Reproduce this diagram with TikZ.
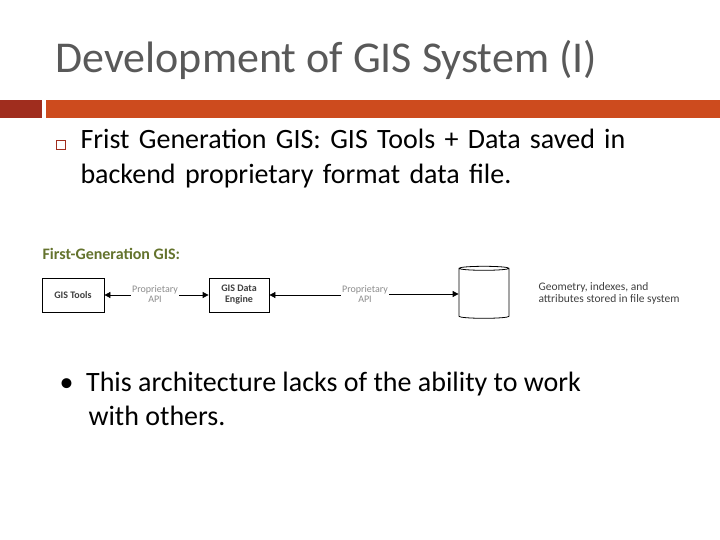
\documentclass[tikz,border=0pt]{standalone}
\usepackage{fontspec}
\setmainfont{Carlito}
\usetikzlibrary{shapes.geometric,arrows.meta}
\definecolor{titlegray}{RGB}{89,89,89}
\definecolor{darkred}{RGB}{160,45,30}
\definecolor{orangebar}{RGB}{205,75,30}
\definecolor{olive}{RGB}{100,115,45}
\begin{document}
\begin{tikzpicture}[x=1pt,y=-1pt,
  box/.style={draw,line width=0.8pt,fill=white,align=center,font=\fontsize{10}{11}\selectfont\bfseries,text=black!75,minimum height=34pt},
  lbl/.style={font=\fontsize{10}{10}\selectfont,text=black!45,align=center,inner sep=1pt},
  arr/.style={line width=0.8pt,-{Triangle[length=6pt,width=6pt]}}]
\useasboundingbox (0,0) rectangle (720,540);
\node[anchor=west,text=titlegray,font=\fontsize{44}{46}\selectfont] (title) at (52,60) {Development of GIS System (I)};
\fill[darkred] (0,100) rectangle (42,118);
\fill[orangebar] (46,100) rectangle (720,118);
\node[draw=darkred,line width=0.8pt,minimum size=9pt,inner sep=0pt] (sq) at (61,145) {};
\node[anchor=north west,align=left,font=\fontsize{28}{35}\selectfont,text width=640pt] (t1) at (77,126) {\raggedright Frist Generation GIS: GIS Tools + Data saved in\\backend proprietary format data file.};
\node[anchor=west,text=olive,font=\fontsize{16}{17}\selectfont\bfseries] (fg) at (39,254) {First-Generation GIS:};
\node[box,minimum width=62pt] (tools) at (73,295) {GIS Tools};
\node[box,minimum width=60pt] (eng) at (239,295) {GIS Data\\Engine};
\node[cylinder,shape border rotate=90,draw,line width=0.8pt,minimum width=50pt,minimum height=52pt,aspect=0.6] (db) at (484,294) {};
\node[lbl] (l1) at (155,294) {Proprietary\\API};
\node[lbl] (l2) at (365,294) {Proprietary\\API};
\node[anchor=west,align=left,font=\fontsize{11.5}{12}\selectfont,text=black!75] (geo) at (535,293) {Geometry, indexes, and\\attributes stored in file system};
\draw[arr] (l1.west |- tools.east) -- (tools.east);
\draw[arr] (l1.east |- eng.west) -- (eng.west);
\draw[arr] (l2.west |- eng.east) -- (eng.east);
\draw[arr] (l2.east |- db.center) -- (db.center -| db.west);
\node[anchor=north west,align=left,font=\fontsize{28}{34}\selectfont] (t2) at (56,369) {\textbullet\ \ This architecture lacks of the ability to work\\\hspace*{29pt}with others.};
\end{tikzpicture}
\end{document}
